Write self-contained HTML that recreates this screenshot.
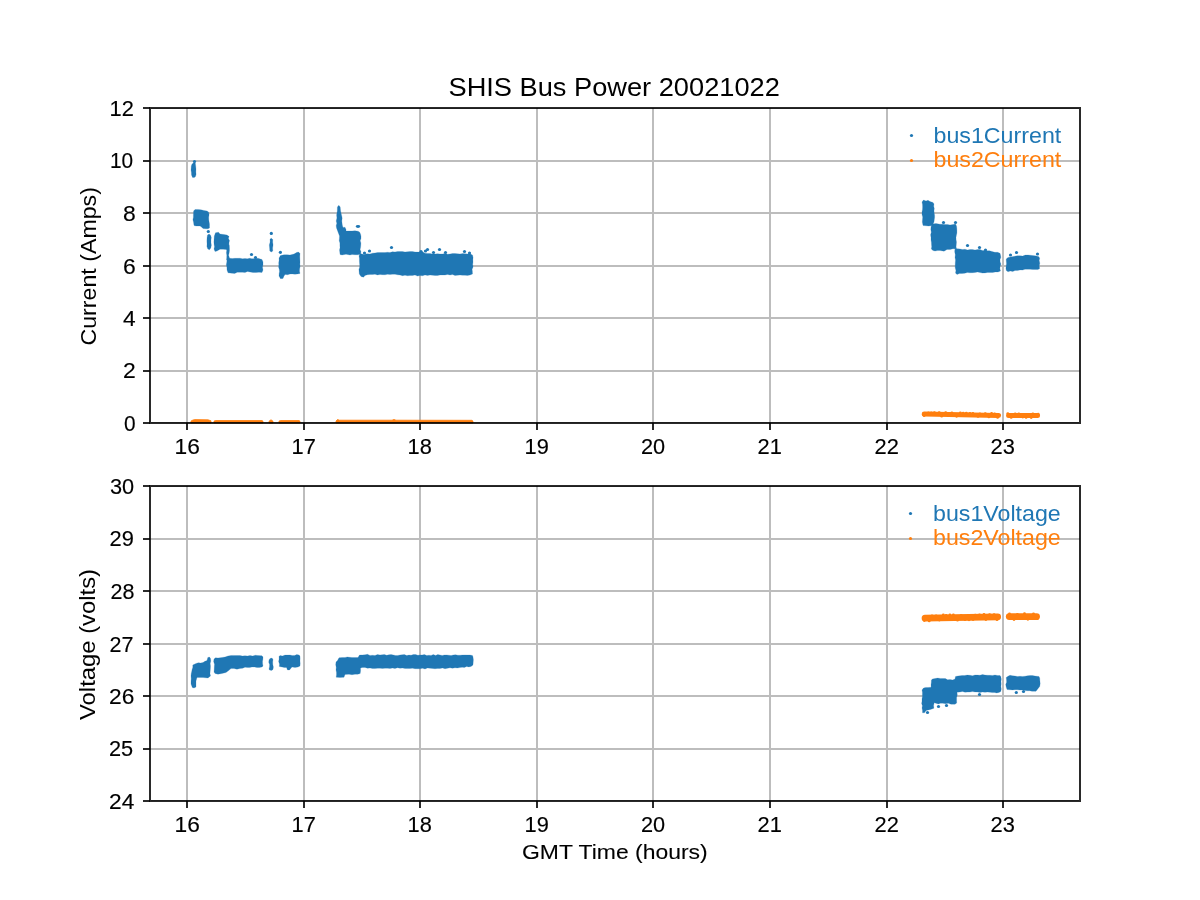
<!DOCTYPE html><html><head><meta charset="utf-8"><style>html,body{margin:0;padding:0;background:#fff;}svg{display:block;will-change:transform;}text{font-family:"Liberation Sans", sans-serif;}</style></head><body><svg width="1200" height="900" viewBox="0 0 1200 900"><rect width="1200" height="900" fill="#fff"/><path d="M186 108H188V423H186ZM303 108H305V423H303ZM419 108H421V423H419ZM536 108H538V423H536ZM652 108H654V423H652ZM769 108H771V423H769ZM886 108H888V423H886ZM1002 108H1004V423H1002ZM150 160H1080V162H150ZM150 212H1080V214H150ZM150 265H1080V267H150ZM150 317H1080V319H150ZM150 370H1080V372H150Z" fill="#bdbdbd"/><path d="M186 486H188V801H186ZM303 486H305V801H303ZM419 486H421V801H419ZM536 486H538V801H536ZM652 486H654V801H652ZM769 486H771V801H769ZM886 486H888V801H886ZM1002 486H1004V801H1002ZM150 538H1080V540H150ZM150 590H1080V592H150ZM150 643H1080V645H150ZM150 695H1080V697H150ZM150 748H1080V750H150Z" fill="#bdbdbd"/><g fill="#1f77b4" stroke="#1f77b4" stroke-width="0.2" stroke-linejoin="round">
<path d="M192.0 164.0L194.0 162.5L195.3 163.0L195.7 166.0L196.0 169.0L195.9 172.0L196.1 174.3L195.5 176.5L194.3 177.6L192.5 177.4L191.5 175.0L191.4 172.5L191.0 170.0L191.3 166.0ZM193.6 211.0L195.0 209.5L198.0 209.4L201.0 209.8L204.0 210.5L207.0 211.0L208.5 212.0L209.1 214.6L208.7 217.3L208.8 220.0L209.5 224.0L209.5 228.0L208.0 228.8L205.5 228.8L203.0 228.5L201.5 227.0L200.0 226.0L196.0 226.0L194.0 225.5L193.5 222.0L192.9 219.7L193.4 217.3L193.4 215.0ZM207.5 235.0L209.0 234.0L210.5 235.0L211.3 237.4L211.0 240.0L211.0 242.7L211.4 245.3L210.8 248.0L209.5 249.8L207.8 249.0L206.9 246.6L207.0 244.0L206.9 241.0L207.0 238.0ZM214.3 236.0L215.5 232.8L218.5 232.2L220.0 234.0L224.0 234.5L227.0 235.0L228.3 236.0L228.0 238.3L229.0 240.5L229.0 242.7L228.8 245.0L228.8 249.0L226.0 249.5L223.0 249.2L220.0 249.2L217.0 251.0L215.0 251.5L214.0 249.0L214.5 246.8L214.1 244.5L213.9 242.2L214.0 240.0ZM226.6 236.0L229.0 236.0L228.4 238.4L229.5 240.8L228.6 243.2L229.3 245.6L229.4 248.0L229.5 250.4L229.2 252.8L228.6 255.2L229.4 257.6L229.0 260.0L226.6 260.0L226.7 257.6L226.8 255.2L226.4 252.8L226.7 250.4L226.1 248.0L226.1 245.6L226.2 243.2L226.8 240.8L226.5 238.4ZM227.0 258.5L229.7 258.2L232.3 258.5L235.0 258.3L237.5 258.3L240.0 258.2L242.5 258.8L245.0 258.5L247.3 258.8L249.7 258.3L252.0 258.7L255.0 258.5L258.0 258.2L262.0 259.5L263.0 262.0L263.0 264.7L262.5 267.3L263.0 270.0L262.0 272.5L259.0 272.2L256.0 272.5L253.0 272.5L250.0 272.0L247.5 271.5L245.0 272.6L242.5 272.3L240.0 272.3L237.3 272.3L234.7 273.4L232.0 273.3L228.0 272.8L227.0 270.0L226.9 267.3L226.3 264.7L226.8 262.0ZM270.0 239.0L271.5 238.3L272.8 239.5L272.7 242.3L273.1 245.0L272.6 248.0L272.8 251.0L271.3 252.0L269.8 251.0L269.6 248.0L269.3 245.0L270.1 242.1ZM279.0 258.0L280.5 255.5L284.0 254.8L287.0 254.7L290.0 255.0L294.0 254.0L296.5 252.5L298.5 252.0L300.0 253.5L299.8 256.3L299.9 259.2L300.0 262.0L299.9 264.3L300.1 266.6L299.6 268.9L299.5 271.2L300.0 273.5L297.5 273.9L295.0 274.2L292.5 273.9L290.0 274.0L287.6 274.8L285.0 274.5L283.8 276.4L283.0 278.5L280.5 278.7L279.0 276.0L279.1 273.8L279.5 271.6L279.3 269.4L278.6 267.2L278.8 265.0L278.7 262.7L279.1 260.3ZM337.4 207.0L338.8 205.3L340.2 207.0L340.6 211.0L341.5 215.0L342.2 218.0L341.8 221.0L342.3 225.0L343.0 227.5L345.0 227.2L346.0 229.5L346.0 231.0L349.0 231.0L352.0 231.0L355.0 230.7L358.0 231.2L359.5 232.0L360.5 234.0L361.0 236.2L361.0 238.4L360.2 240.7L360.9 242.9L360.8 245.1L360.6 247.3L360.1 249.6L361.0 251.8L360.5 254.0L358.0 254.8L355.0 254.7L352.0 254.5L350.0 255.0L346.0 254.2L342.0 255.0L340.0 254.5L339.8 252.2L339.5 250.0L340.0 247.7L339.9 245.3L339.9 243.0L339.2 240.7L339.4 238.3L339.5 236.0L338.0 232.0L336.5 228.0L336.2 225.7L336.8 223.3L336.2 221.0L336.9 218.0L336.6 215.0L337.3 211.0ZM359.0 256.0L360.0 253.5L364.0 254.5L367.0 253.8L370.0 254.0L372.4 253.2L375.0 252.9L377.5 252.6L380.0 252.5L382.5 252.5L385.0 252.6L387.5 252.2L390.0 252.5L392.4 251.7L395.0 251.9L397.5 251.6L400.0 251.5L402.5 251.6L405.0 252.0L407.5 251.7L410.0 251.5L412.5 251.6L415.0 251.9L417.5 252.1L420.0 252.0L422.6 251.8L424.9 253.2L427.5 253.5L430.0 253.5L432.5 254.1L435.0 254.1L437.5 253.7L440.0 254.0L442.5 253.9L445.0 253.5L447.5 254.2L450.0 254.0L452.5 253.5L455.0 253.5L457.5 253.7L460.0 254.0L462.7 253.6L465.3 253.8L468.0 254.0L470.4 254.0L472.5 255.0L473.1 257.4L472.9 259.8L473.0 262.1L472.7 264.5L473.1 266.9L472.1 269.2L472.4 271.6L472.5 274.0L470.0 275.0L467.5 275.4L465.0 275.3L462.5 275.2L460.0 275.0L457.5 275.2L455.0 275.5L452.5 274.6L450.0 275.0L447.5 274.4L445.0 275.0L442.5 275.0L440.0 275.0L437.5 275.5L435.0 275.5L432.5 275.2L430.0 275.0L427.5 275.4L425.0 274.9L422.5 275.8L420.0 275.5L417.5 276.1L415.0 275.0L412.5 275.5L410.0 275.5L407.5 275.8L405.0 275.2L402.5 275.7L400.0 275.0L397.5 274.8L395.0 274.2L392.5 274.2L390.0 274.5L387.5 274.3L385.0 274.8L382.5 274.7L380.0 274.5L377.5 274.9L375.0 274.2L372.5 274.5L370.0 274.5L367.4 274.7L365.0 275.5L363.5 277.2L361.0 276.5L359.3 274.0L359.1 271.8L358.9 269.5L359.6 267.2L359.7 265.0L359.5 262.7L359.4 260.5L359.4 258.2ZM922.0 202.0L923.5 200.0L926.0 201.0L928.0 200.3L930.0 201.5L933.0 202.5L934.0 204.0L933.7 206.2L934.3 208.5L934.0 210.8L934.2 213.0L934.6 215.2L934.6 217.5L934.3 219.8L934.0 222.0L933.0 224.0L931.0 225.8L928.5 226.1L926.0 225.8L923.0 225.5L922.3 222.0L922.5 219.5L922.7 217.0L922.0 214.5L922.0 212.0L922.5 209.5L922.6 207.0L922.5 204.5ZM931.0 227.0L932.0 224.0L936.0 223.5L940.0 224.2L942.5 224.2L945.0 224.5L947.5 224.4L950.0 225.0L953.0 224.5L955.5 224.0L956.5 226.0L956.8 228.3L956.9 230.6L956.9 232.9L956.4 235.2L956.0 237.5L956.1 239.8L956.5 242.1L956.3 244.4L956.1 246.7L956.5 249.0L953.0 248.8L950.1 249.6L947.0 249.5L944.0 251.2L940.0 250.5L937.5 250.6L935.0 251.0L933.0 250.5L931.3 249.0L931.7 246.7L931.5 244.5L931.4 242.2L931.0 240.0L931.0 237.4L930.6 234.8L931.3 232.2L930.8 229.6ZM954.8 249.5L956.0 248.5L960.0 249.0L962.5 249.5L965.0 249.2L967.5 249.9L970.0 249.5L972.5 249.6L975.0 250.0L977.5 249.6L980.0 249.5L982.2 250.5L984.6 250.6L987.0 250.8L989.6 250.8L992.0 251.5L995.0 252.3L997.6 252.3L1000.0 253.2L1000.5 255.0L1000.9 257.3L1000.0 259.6L1000.1 261.9L1000.9 264.1L1000.1 266.4L999.9 268.7L1000.5 271.0L998.0 272.0L995.3 272.0L992.7 272.5L990.0 272.5L987.5 272.4L985.0 272.9L982.5 273.1L980.0 272.5L977.5 272.0L975.0 272.5L972.5 272.7L970.0 272.8L967.3 272.5L964.7 273.3L962.0 273.5L959.4 273.6L957.0 274.5L955.5 273.0L955.9 270.4L955.2 267.8L955.2 265.2L955.3 262.6L955.5 260.0L955.0 257.4L955.3 254.7L954.7 252.1ZM1006.2 259.0L1008.0 257.5L1012.0 256.7L1014.7 256.3L1017.3 255.7L1020.0 255.8L1022.7 256.0L1025.3 255.1L1028.0 255.0L1030.3 255.2L1032.7 255.6L1035.0 255.8L1038.5 256.5L1039.7 258.0L1039.2 260.6L1039.8 263.2L1039.2 265.9L1039.7 268.5L1038.0 269.6L1035.3 269.5L1032.7 269.4L1030.0 269.3L1027.5 269.2L1025.0 269.2L1022.6 270.1L1020.0 269.9L1017.5 270.6L1015.0 270.5L1012.8 271.5L1010.3 271.0L1008.0 271.8L1006.3 270.5L1005.9 268.2L1006.2 265.9L1006.5 263.6L1006.3 261.3ZM191.0 676.0L191.2 673.8L191.7 671.6L192.1 669.4L192.8 667.3L192.8 665.0L196.0 663.5L198.3 662.7L200.7 662.9L203.0 662.5L204.9 661.2L207.0 660.5L207.8 657.5L209.5 657.0L210.5 658.5L210.8 661.0L210.2 663.5L210.5 666.0L210.4 668.5L210.2 671.0L210.0 673.5L210.5 676.0L208.0 678.0L205.5 677.8L203.0 677.5L200.0 677.4L197.0 677.5L196.0 681.0L196.0 684.0L196.0 687.0L194.0 688.0L192.3 687.5L191.0 684.0L191.0 681.3L191.2 678.7ZM214.0 659.0L215.5 657.8L218.0 658.0L222.0 657.5L225.0 657.0L228.0 656.0L231.0 655.5L233.2 655.4L235.5 655.5L237.8 655.5L240.0 655.5L242.5 656.0L245.0 655.7L247.5 656.0L250.0 655.5L252.7 656.0L255.3 655.2L258.0 655.5L262.0 655.8L263.0 657.0L262.9 659.2L262.5 661.5L262.6 663.8L263.0 666.0L262.0 667.0L259.5 667.4L257.0 667.5L254.5 667.1L252.0 667.0L249.7 667.6L247.3 667.4L245.0 667.2L242.6 668.3L240.0 668.5L237.0 669.2L234.0 668.5L231.0 668.6L228.0 671.0L226.0 672.5L222.0 673.5L218.0 674.2L215.0 673.5L214.0 672.0L214.2 669.4L214.3 666.8L214.5 664.2L213.6 661.6ZM270.0 658.5L272.0 658.0L273.0 659.5L272.7 662.0L272.8 664.5L273.4 667.0L273.0 669.5L271.5 670.5L269.5 670.0L269.0 669.0L269.5 666.8L269.6 664.5L268.7 662.2L269.0 660.0ZM279.0 656.5L280.0 655.5L282.5 655.9L285.0 655.1L287.5 655.1L290.0 655.0L292.2 655.6L294.5 655.4L296.8 654.6L299.0 655.0L300.0 656.0L300.1 658.5L300.0 661.0L300.2 663.5L300.0 666.0L298.0 667.0L295.0 667.4L292.0 667.0L289.5 670.0L287.5 670.0L286.5 667.5L284.2 667.5L282.0 667.0L279.3 666.5L279.5 664.0L278.6 661.5L279.1 659.0ZM336.0 662.0L337.5 660.5L339.0 657.8L342.0 657.6L345.0 657.5L347.3 656.9L349.7 657.3L352.0 657.5L355.0 657.6L358.0 657.5L359.5 655.0L362.3 654.9L365.0 654.8L367.5 654.3L370.0 655.4L372.5 655.2L375.0 655.5L377.5 654.5L380.0 655.0L382.2 654.7L384.4 654.4L386.7 655.3L388.9 654.7L391.1 654.6L393.3 654.9L395.6 655.5L397.8 655.4L400.0 655.0L402.2 654.7L404.4 654.6L406.7 655.5L408.9 655.1L411.1 655.2L413.3 654.5L415.6 654.5L417.8 655.2L420.0 655.0L422.2 654.9L424.4 654.5L426.7 655.5L428.9 655.2L431.1 655.4L433.3 654.5L435.6 655.4L437.8 654.5L440.0 655.0L442.2 655.5L444.4 655.0L446.7 654.9L448.9 655.2L451.1 655.6L453.3 654.9L455.6 654.7L457.8 655.2L460.0 655.2L462.5 655.0L465.0 654.9L467.5 655.0L470.0 655.0L472.5 655.6L473.0 657.0L473.4 659.7L473.2 662.3L473.0 665.0L471.0 666.5L468.8 666.9L466.6 666.6L464.4 667.4L462.2 667.3L460.0 667.5L457.5 668.0L455.0 667.8L452.5 668.3L450.0 667.8L447.5 668.3L445.0 668.7L442.5 668.0L440.0 668.5L437.5 668.4L435.0 668.8L432.5 668.4L430.0 668.3L427.5 667.9L425.0 669.0L422.5 668.3L420.0 668.8L417.5 668.8L415.0 668.7L412.5 668.2L410.0 668.5L407.5 668.6L405.0 668.4L402.5 668.1L400.0 668.3L397.5 667.8L395.0 668.6L392.5 668.1L390.0 668.5L387.5 668.2L385.0 668.2L382.5 668.4L380.0 668.2L377.5 668.3L375.0 668.6L372.5 668.5L370.0 668.0L367.5 668.3L365.0 667.4L362.5 667.5L360.5 668.0L360.6 670.8L360.2 673.5L357.7 674.3L355.0 674.2L352.0 674.7L349.0 674.3L345.0 674.5L344.0 677.3L340.0 677.5L336.2 677.2L336.5 674.8L336.5 672.4L336.0 670.0L336.2 667.3L335.7 664.7ZM922.0 690.0L923.5 688.0L925.7 687.4L928.0 687.5L931.1 687.2L931.0 684.8L931.3 682.4L931.4 680.0L932.5 679.0L935.0 678.5L937.7 678.1L940.3 678.4L943.0 678.5L945.4 678.6L947.6 679.8L950.0 679.6L952.6 679.9L955.0 679.0L955.5 676.5L958.0 676.0L962.0 675.5L964.7 675.5L967.3 675.1L970.0 675.3L972.5 675.8L975.0 675.0L977.5 675.1L980.0 675.2L982.5 674.6L985.0 675.1L987.5 675.2L990.0 675.3L992.5 675.4L995.0 675.0L997.5 675.5L1000.0 675.5L1000.8 676.5L1001.3 679.0L1001.0 681.5L1001.2 684.0L1000.9 686.5L1001.3 689.0L1000.8 691.5L999.0 692.4L996.7 692.9L994.5 692.5L992.2 692.6L990.0 692.2L987.5 692.1L985.0 692.3L982.5 692.0L980.0 692.4L977.5 692.1L975.0 691.9L972.5 691.6L970.0 692.0L967.5 692.1L965.0 692.2L962.5 691.4L960.0 692.0L957.0 692.2L957.3 694.9L956.6 697.6L956.6 700.3L956.7 703.0L955.0 704.3L951.0 704.2L948.3 703.3L945.5 703.8L942.8 703.3L940.5 703.2L938.3 703.9L934.2 702.8L933.6 705.5L933.9 708.3L930.6 709.4L928.3 709.9L926.1 710.6L924.5 712.8L922.5 712.8L922.5 710.4L922.0 708.0L922.4 705.8L921.6 703.5L922.0 701.2L922.0 699.0L922.4 696.8L922.4 694.5L922.4 692.2ZM1006.2 677.5L1008.0 676.2L1010.0 675.3L1012.5 675.7L1015.0 676.0L1017.5 676.5L1020.0 676.3L1022.5 676.4L1025.0 676.2L1027.5 675.8L1030.0 675.5L1032.5 675.6L1035.0 676.0L1039.0 676.5L1039.7 678.0L1039.9 680.8L1040.2 683.7L1039.7 686.5L1038.5 688.0L1036.0 691.3L1032.0 691.3L1029.7 690.7L1027.3 690.8L1025.0 690.6L1022.5 690.1L1020.0 690.0L1017.5 689.8L1015.0 689.7L1012.5 689.9L1010.0 689.8L1007.0 689.5L1006.2 687.0L1005.7 684.6L1006.6 682.2L1006.5 679.9Z"/>
</g>
<g fill="#1f77b4"><circle cx="194.5" cy="161.5" r="1.6"/><circle cx="208.3" cy="231.5" r="1.6"/><circle cx="251.5" cy="254.5" r="1.6"/><circle cx="255.5" cy="257.5" r="1.6"/><circle cx="271.3" cy="233.4" r="1.6"/><circle cx="280.4" cy="252.3" r="1.6"/><circle cx="364.5" cy="253" r="1.6"/><circle cx="369.5" cy="251" r="1.6"/><circle cx="391.5" cy="247.5" r="1.6"/><circle cx="421" cy="251.5" r="1.6"/><circle cx="425.5" cy="251" r="1.6"/><circle cx="427.5" cy="249.5" r="1.6"/><circle cx="433.5" cy="252.5" r="1.6"/><circle cx="439.5" cy="249.5" r="1.6"/><circle cx="445.5" cy="252.5" r="1.6"/><circle cx="464.5" cy="251.5" r="1.6"/><circle cx="469.5" cy="253" r="1.6"/><circle cx="943.5" cy="222.5" r="1.6"/><circle cx="955.5" cy="222.5" r="1.6"/><circle cx="967.5" cy="245.5" r="1.6"/><circle cx="979.5" cy="247.5" r="1.6"/><circle cx="985.5" cy="250" r="1.6"/><circle cx="1010.5" cy="255" r="1.6"/><circle cx="1016.5" cy="252.5" r="1.6"/><circle cx="1037.5" cy="254" r="1.6"/><circle cx="938.5" cy="706.5" r="1.6"/><circle cx="946.5" cy="705.5" r="1.6"/><circle cx="927.5" cy="712.5" r="1.6"/><circle cx="979.5" cy="694.5" r="1.6"/><circle cx="1016.3" cy="692.5" r="1.6"/><circle cx="1023.5" cy="691.5" r="1.6"/><ellipse cx="358" cy="226.5" rx="2.2" ry="1.4"/></g>
<g fill="#ff7f0e" stroke="#ff7f0e" stroke-width="0.8" stroke-linejoin="round">
<path d="M191.0 423.0L191.0 421.0L193.0 420.0L195.0 419.6L208.0 419.8L211.0 420.8L211.0 423.0ZM214.0 423.0L214.0 421.0L216.0 420.5L262.0 420.5L263.0 421.2L263.0 423.0ZM269.0 423.0L269.0 421.2L271.0 419.8L273.0 421.2L273.0 423.0ZM279.0 423.0L279.0 421.0L281.0 420.5L299.0 420.5L300.0 421.2L300.0 423.0ZM336.0 423.0L336.0 421.0L337.5 419.5L339.5 420.2L392.0 420.2L394.0 419.4L396.0 420.2L472.0 420.3L473.0 421.2L473.0 423.0Z"/>
</g>
<g stroke="#ff7f0e" stroke-linecap="round" fill="none">
<path d="M924.2 414.1L998.6 415.5" stroke-width="5.0"/>
<path d="M1008.6 415.45L1037.5 415.45" stroke-width="5.0"/>
<path d="M925 618.2L997.7 616.8" stroke-width="6.7"/>
<path d="M1009.2 616.6L1036.6 616.6" stroke-width="6.7"/>
</g>
<g fill="#ff7f0e"><circle cx="924.1" cy="415.7" r="1.4"/><circle cx="928.5" cy="412.8" r="1.4"/><circle cx="931.3" cy="412.9" r="1.4"/><circle cx="934.4" cy="412.6" r="1.4"/><circle cx="939.2" cy="412.6" r="1.4"/><circle cx="941.7" cy="416.2" r="1.4"/><circle cx="945.7" cy="412.7" r="1.4"/><circle cx="949.7" cy="413.3" r="1.4"/><circle cx="951.9" cy="412.9" r="1.4"/><circle cx="956.6" cy="416.3" r="1.4"/><circle cx="960.3" cy="413.0" r="1.4"/><circle cx="963.2" cy="413.2" r="1.4"/><circle cx="966.3" cy="413.1" r="1.4"/><circle cx="969.9" cy="413.3" r="1.4"/><circle cx="972.9" cy="413.5" r="1.4"/><circle cx="978.0" cy="416.4" r="1.4"/><circle cx="979.9" cy="413.8" r="1.4"/><circle cx="985.3" cy="413.6" r="1.4"/><circle cx="988.9" cy="416.9" r="1.4"/><circle cx="991.6" cy="413.5" r="1.4"/><circle cx="994.6" cy="414.0" r="1.4"/><circle cx="997.6" cy="417.4" r="1.4"/><circle cx="1007.8" cy="413.6" r="1.4"/><circle cx="1011.2" cy="417.4" r="1.4"/><circle cx="1015.2" cy="413.8" r="1.4"/><circle cx="1018.8" cy="413.9" r="1.4"/><circle cx="1022.8" cy="417.0" r="1.4"/><circle cx="1026.1" cy="417.4" r="1.4"/><circle cx="1031.2" cy="417.5" r="1.4"/><circle cx="1032.9" cy="413.9" r="1.4"/><circle cx="1038.2" cy="414.2" r="1.4"/><circle cx="924.3" cy="620.5" r="1.4"/><circle cx="929.2" cy="620.9" r="1.4"/><circle cx="932.0" cy="615.9" r="1.4"/><circle cx="936.1" cy="615.9" r="1.4"/><circle cx="939.3" cy="620.1" r="1.4"/><circle cx="943.3" cy="615.0" r="1.4"/><circle cx="946.2" cy="615.5" r="1.4"/><circle cx="949.9" cy="615.0" r="1.4"/><circle cx="953.4" cy="615.0" r="1.4"/><circle cx="957.5" cy="620.2" r="1.4"/><circle cx="961.2" cy="615.4" r="1.4"/><circle cx="965.0" cy="619.7" r="1.4"/><circle cx="969.0" cy="619.8" r="1.4"/><circle cx="973.1" cy="619.6" r="1.4"/><circle cx="975.2" cy="615.1" r="1.4"/><circle cx="979.5" cy="614.8" r="1.4"/><circle cx="984.0" cy="614.4" r="1.4"/><circle cx="985.9" cy="619.5" r="1.4"/><circle cx="989.6" cy="614.6" r="1.4"/><circle cx="994.1" cy="614.7" r="1.4"/><circle cx="997.0" cy="619.7" r="1.4"/><circle cx="1009.5" cy="614.0" r="1.4"/><circle cx="1014.0" cy="619.5" r="1.4"/><circle cx="1017.4" cy="614.5" r="1.4"/><circle cx="1021.2" cy="618.7" r="1.4"/><circle cx="1024.5" cy="613.7" r="1.4"/><circle cx="1027.9" cy="619.3" r="1.4"/><circle cx="1033.5" cy="613.8" r="1.4"/><circle cx="1037.4" cy="618.7" r="1.4"/></g><path d="M149 107H1081V109H149ZM149 422H1081V424H149ZM149 109H151V422H149ZM1079 109H1081V422H1079Z" fill="#000" fill-opacity="0.835"/><path d="M151 108H1079V109H151ZM151 422H1079V423H151Z" fill="#000" fill-opacity="0.262"/><path d="M186 423H188V430H186ZM303 423H305V430H303ZM419 423H421V430H419ZM536 423H538V430H536ZM652 423H654V430H652ZM769 423H771V430H769ZM886 423H888V430H886ZM1002 423H1004V430H1002ZM143 107H150V109H143ZM143 160H150V162H143ZM143 212H150V214H143ZM143 265H150V267H143ZM143 317H150V319H143ZM143 370H150V372H143ZM143 422H150V424H143Z" fill="#000" fill-opacity="0.835"/><path d="M149 485H1081V487H149ZM149 800H1081V802H149ZM149 487H151V800H149ZM1079 487H1081V800H1079Z" fill="#000" fill-opacity="0.835"/><path d="M151 486H1079V487H151ZM151 800H1079V801H151Z" fill="#000" fill-opacity="0.262"/><path d="M186 801H188V808H186ZM303 801H305V808H303ZM419 801H421V808H419ZM536 801H538V808H536ZM652 801H654V808H652ZM769 801H771V808H769ZM886 801H888V808H886ZM1002 801H1004V808H1002ZM143 485H150V487H143ZM143 538H150V540H143ZM143 590H150V592H143ZM143 643H150V645H143ZM143 695H150V697H143ZM143 748H150V750H143ZM143 800H150V802H143Z" fill="#000" fill-opacity="0.835"/><text font-size="20.83" stroke="#000" stroke-width="0.14" transform="translate(174.50 453.50) scale(1.093 1.095)">16</text><text font-size="20.83" stroke="#000" stroke-width="0.14" transform="translate(291.50 453.50) scale(1.048 1.095)">17</text><text font-size="20.83" stroke="#000" stroke-width="0.14" transform="translate(407.50 453.50) scale(1.048 1.095)">18</text><text font-size="20.83" stroke="#000" stroke-width="0.14" transform="translate(524.50 453.50) scale(1.048 1.095)">19</text><text font-size="20.83" stroke="#000" stroke-width="0.14" transform="translate(641.00 453.50) scale(1.045 1.095)">20</text><text font-size="20.83" stroke="#000" stroke-width="0.14" transform="translate(757.50 453.50) scale(1.050 1.095)">21</text><text font-size="20.83" stroke="#000" stroke-width="0.14" transform="translate(874.50 453.50) scale(1.050 1.095)">22</text><text font-size="20.83" stroke="#000" stroke-width="0.14" transform="translate(990.50 453.50) scale(1.050 1.095)">23</text><text font-size="20.83" stroke="#000" stroke-width="0.14" transform="translate(174.50 831.50) scale(1.093 1.095)">16</text><text font-size="20.83" stroke="#000" stroke-width="0.14" transform="translate(291.50 831.50) scale(1.048 1.095)">17</text><text font-size="20.83" stroke="#000" stroke-width="0.14" transform="translate(407.50 831.50) scale(1.048 1.095)">18</text><text font-size="20.83" stroke="#000" stroke-width="0.14" transform="translate(524.50 831.50) scale(1.048 1.095)">19</text><text font-size="20.83" stroke="#000" stroke-width="0.14" transform="translate(641.00 831.50) scale(1.045 1.095)">20</text><text font-size="20.83" stroke="#000" stroke-width="0.14" transform="translate(757.50 831.50) scale(1.050 1.095)">21</text><text font-size="20.83" stroke="#000" stroke-width="0.14" transform="translate(874.50 831.50) scale(1.050 1.095)">22</text><text font-size="20.83" stroke="#000" stroke-width="0.14" transform="translate(990.50 831.50) scale(1.050 1.095)">23</text><text font-size="20.83" stroke="#000" stroke-width="0.14" transform="translate(124.00 430.50) scale(1.000 1.095)">0</text><text font-size="20.83" stroke="#000" stroke-width="0.14" transform="translate(123.00 377.50) scale(1.100 1.095)">2</text><text font-size="20.83" stroke="#000" stroke-width="0.14" transform="translate(123.00 325.50) scale(1.091 1.095)">4</text><text font-size="20.83" stroke="#000" stroke-width="0.14" transform="translate(123.00 273.50) scale(1.100 1.095)">6</text><text font-size="20.83" stroke="#000" stroke-width="0.14" transform="translate(123.00 220.50) scale(1.100 1.095)">8</text><text font-size="20.83" stroke="#000" stroke-width="0.14" transform="translate(110.00 167.50) scale(1.000 1.095)">10</text><text font-size="20.83" stroke="#000" stroke-width="0.14" transform="translate(109.50 115.50) scale(1.048 1.095)">12</text><text font-size="20.83" stroke="#000" stroke-width="0.14" transform="translate(109.00 808.50) scale(1.091 1.095)">24</text><text font-size="20.83" stroke="#000" stroke-width="0.14" transform="translate(109.00 755.50) scale(1.045 1.095)">25</text><text font-size="20.83" stroke="#000" stroke-width="0.14" transform="translate(109.00 703.50) scale(1.091 1.095)">26</text><text font-size="20.83" stroke="#000" stroke-width="0.14" transform="translate(109.50 651.50) scale(1.033 1.095)">27</text><text font-size="20.83" stroke="#000" stroke-width="0.14" transform="translate(110.50 598.50) scale(1.033 1.095)">28</text><text font-size="20.83" stroke="#000" stroke-width="0.14" transform="translate(109.50 545.50) scale(1.050 1.095)">29</text><text font-size="20.83" stroke="#000" stroke-width="0.14" transform="translate(110.00 493.50) scale(1.045 1.095)">30</text><text font-size="25" transform="translate(448.50 96.00) scale(1.089 1.000)">SHIS Bus Power 20021022</text><text font-size="20.83" stroke="#000" stroke-width="0.1" transform="translate(522.00 859.00) scale(1.102 1.000)">GMT Time (hours)</text><text font-size="20.83" transform="translate(95.50 345.50) rotate(-90) scale(1.113 1.055)">Current (Amps)</text><text font-size="20.83" transform="translate(94.50 720.00) rotate(-90) scale(1.145 1.055)">Voltage (volts)</text><text font-size="20.83" fill="#1f77b4" transform="translate(933.50 143.00) scale(1.115 1.067)">bus1Current</text><text font-size="20.83" fill="#ff7f0e" transform="translate(933.50 167.00) scale(1.115 1.067)">bus2Current</text><text font-size="20.83" fill="#1f77b4" transform="translate(933.00 520.50) scale(1.115 1.055)">bus1Voltage</text><text font-size="20.83" fill="#ff7f0e" transform="translate(933.00 544.50) scale(1.115 1.055)">bus2Voltage</text><circle cx="911.5" cy="135.5" r="1.6" fill="#1f77b4"/><circle cx="911.5" cy="160.5" r="1.6" fill="#ff7f0e"/><circle cx="910.5" cy="513.5" r="1.6" fill="#1f77b4"/><circle cx="910.5" cy="538.5" r="1.6" fill="#ff7f0e"/></svg></body></html>
